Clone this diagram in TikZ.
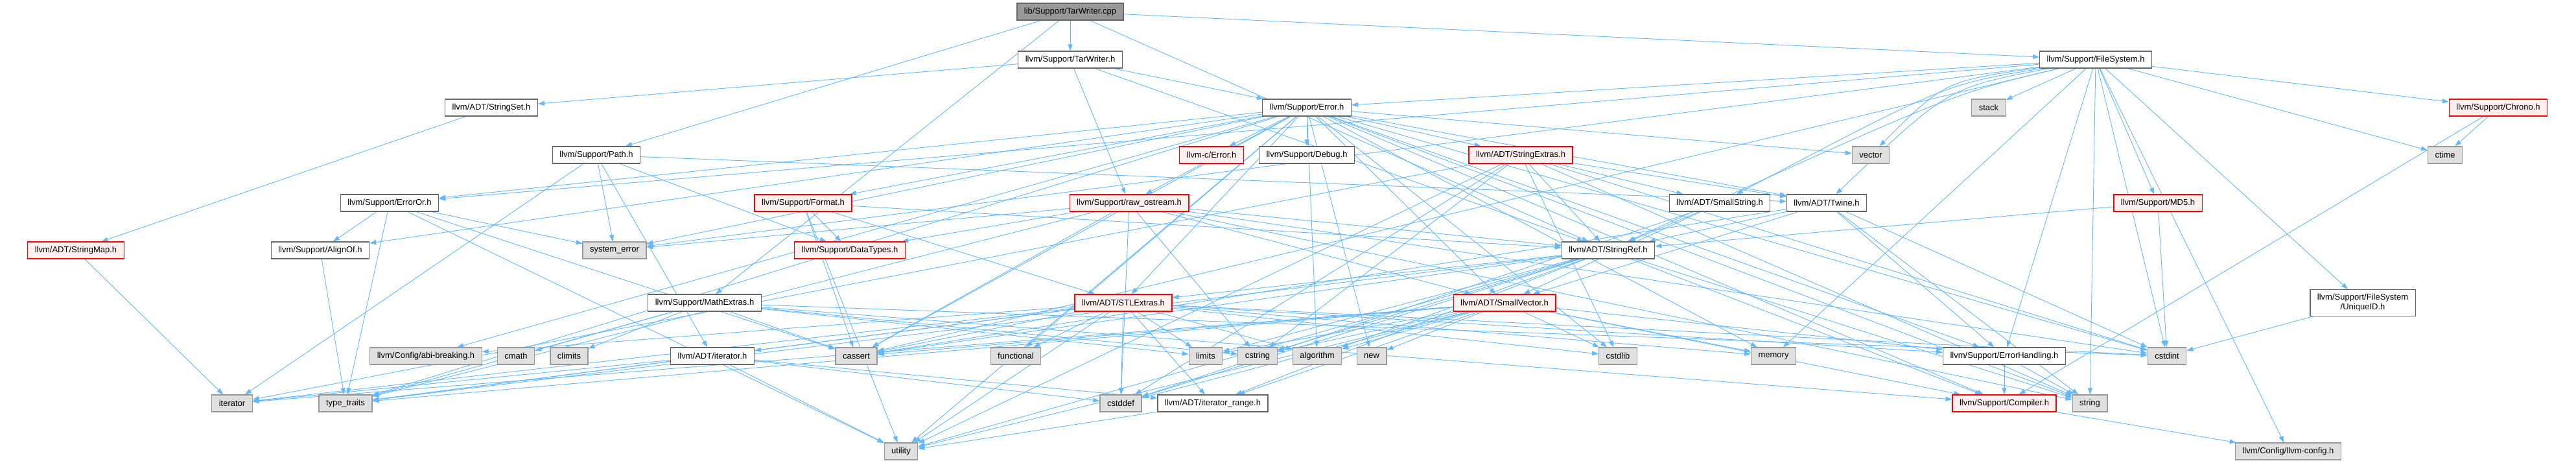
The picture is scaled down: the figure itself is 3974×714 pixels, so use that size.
\documentclass[tikz,border=0pt]{standalone}
\usepackage{fontspec}
\setmainfont{Liberation Sans}
\usetikzlibrary{arrows.meta}
\definecolor{edgeblue}{HTML}{63B8FF}
\definecolor{bordw}{HTML}{666666}
\definecolor{fillg}{HTML}{E0E0E0}
\definecolor{bordg}{HTML}{999999}
\definecolor{fillr}{HTML}{FFF0F0}
\definecolor{fillroot}{HTML}{999999}
\pgfdeclarelayer{edgelayer}
\pgfsetlayers{edgelayer,main}
\tikzset{
  nd/.style={rectangle, line width=1.2pt, minimum height=26pt, inner xsep=11pt, inner ysep=2pt,
     font=\fontsize{13}{15}\selectfont, align=center},
  wnode/.style={nd, draw=bordw, fill=white},
  gnode/.style={nd, draw=bordg, fill=fillg},
  rnode/.style={nd, draw=red, fill=fillr},
  rootnode/.style={nd, draw=bordw, fill=fillroot},
  dep/.style={draw=edgeblue, line width=0.9pt, -{Triangle[length=10pt,width=7pt]}}
}
\begin{document}
\begin{tikzpicture}[x=1pt,y=-1pt]
\useasboundingbox (0,0) rectangle (3974,714);
% rank 0-1
\node[rootnode] (root) at (1651,18) {lib/Support/TarWriter.cpp};
\node[wnode] (twh) at (1651,92) {llvm/Support/TarWriter.h};
\node[wnode] (fs) at (3233,92) {llvm/Support/FileSystem.h};
% rank 2
\node[wnode] (sset) at (758,166) {llvm/ADT/StringSet.h};
\node[wnode] (err) at (2016,166) {llvm/Support/Error.h};
\node[gnode] (stack) at (3068,166) {stack};
\node[rnode] (chrono) at (3854,166) {llvm/Support/Chrono.h};
% rank 3
\node[wnode] (path) at (920,239) {llvm/Support/Path.h};
\node[rnode] (cerr) at (1869,239) {llvm-c/Error.h};
\node[wnode] (debug) at (2016,239) {llvm/Support/Debug.h};
\node[rnode] (sext) at (2346,239) {llvm/ADT/StringExtras.h};
\node[gnode] (vector) at (2886,239) {vector};
\node[gnode] (ctime) at (3772,239) {ctime};
% rank 4
\node[wnode] (erroror) at (601,313) {llvm/Support/ErrorOr.h};
\node[rnode] (format) at (1239,313) {llvm/Support/Format.h};
\node[rnode] (raw) at (1742,313) {llvm/Support/raw\_ostream.h};
\node[wnode] (sstr) at (2653,313) {llvm/ADT/SmallString.h};
\node[wnode] (twine) at (2818,313) {llvm/ADT/Twine.h};
\node[rnode] (md5) at (3329,313) {llvm/Support/MD5.h};
% rank 5
\node[rnode] (smap) at (117,386) {llvm/ADT/StringMap.h};
\node[wnode] (align) at (494,386) {llvm/Support/AlignOf.h};
\node[gnode] (syserr) at (948,386) {system\_error};
\node[rnode] (dtypes) at (1311,386) {llvm/Support/DataTypes.h};
\node[wnode] (sref) at (2481,386) {llvm/ADT/StringRef.h};
% rank 6
\node[wnode] (math) at (1087,467) {llvm/Support/MathExtras.h};
\node[rnode] (stl) at (1733,467) {llvm/ADT/STLExtras.h};
\node[rnode] (svec) at (2321,467) {llvm/ADT/SmallVector.h};
\node[wnode, minimum height=41pt] (uid) at (3645,467) {llvm/Support/FileSystem\\/UniqueID.h};
% rank 7
\node[gnode] (abi) at (657,549) {llvm/Config/abi-breaking.h};
\node[gnode] (cmath) at (796,549) {cmath};
\node[gnode] (climits) at (878,549) {climits};
\node[wnode] (iterh) at (1099,549) {llvm/ADT/iterator.h};
\node[gnode] (cassert) at (1321,549) {cassert};
\node[gnode] (functional) at (1567,549) {functional};
\node[gnode] (limits) at (1860,549) {limits};
\node[gnode] (cstring) at (1940,549) {cstring};
\node[gnode] (algorithm) at (2032,549) {algorithm};
\node[gnode] (new) at (2116,549) {new};
\node[gnode] (cstdlib) at (2496,549) {cstdlib};
\node[gnode] (memory) at (2736,549) {memory};
\node[wnode] (errh) at (3092,549) {llvm/Support/ErrorHandling.h};
\node[gnode] (cstdint) at (3343,549) {cstdint};
% rank 8
\node[gnode] (iterator) at (358,622) {iterator};
\node[gnode] (typetraits) at (533,622) {type\_traits};
\node[gnode] (cstddef) at (1729,622) {cstddef};
\node[wnode] (iterrange) at (1871,622) {llvm/ADT/iterator\_range.h};
\node[rnode] (compiler) at (3092,622) {llvm/Support/Compiler.h};
\node[gnode] (string) at (3224,622) {string};
% rank 9
\node[gnode] (utility) at (1390,696) {utility};
\node[gnode] (llvmconfig) at (3530,696) {llvm/Config/llvm-config.h};

\begin{pgfonlayer}{edgelayer}
\foreach \s/\t in {
 root/twh, root/sref, root/fs, root/math, root/path,
 twh/sref, twh/sset, twh/err, twh/raw,
 fs/llvmconfig, fs/chrono, fs/err, fs/errh, fs/erroror,
 fs/uid, fs/md5, fs/cassert, fs/cstdint, fs/ctime, fs/memory, fs/stack, fs/string,
 fs/syserr,
 sset/smap, smap/iterator,
 err/cerr, err/stl, err/svec, err/sext, err/twine, err/abi, err/align, err/compiler,
 err/debug, err/errh, err/erroror, err/format, err/raw, err/algorithm, err/cassert,
 err/cstdint, err/cstdlib, err/functional, err/memory, err/new, err/string,
 err/syserr, err/typetraits, err/utility, err/vector,
 path/twine, path/iterh, path/dtypes, path/iterator, path/syserr,
 chrono/compiler, chrono/ctime,
 sext/sstr, sext/sref, sext/twine, sext/cstddef, sext/cstdint, sext/cstdlib,
 sext/cstring, sext/iterator, sext/string, sext/utility,
 erroror/align, erroror/cassert, erroror/syserr, erroror/typetraits, erroror/utility,
 format/stl, format/sref, format/dtypes, format/cassert, format/utility,
 raw/svec, raw/sref, raw/dtypes, raw/cassert, raw/cstddef, raw/cstdint, raw/cstring,
 raw/string, raw/syserr, raw/typetraits,
 sstr/svec, sstr/sref, sstr/cstddef,
 twine/svec, twine/sref, twine/errh, twine/cassert, twine/cstdint, twine/string,
 md5/sref, md5/cstdint,
 align/typetraits,
 sref/stl, sref/iterrange, sref/compiler, sref/algorithm, sref/cassert, sref/cstddef,
 sref/cstring, sref/limits, sref/string, sref/typetraits, sref/utility,
 math/compiler, math/cassert, math/climits, math/cmath, math/cstdint, math/cstring,
 math/limits, math/typetraits,
 stl/iterh, stl/iterrange, stl/abi, stl/errh, stl/algorithm, stl/cassert, stl/cstddef,
 stl/cstdint, stl/cstdlib, stl/functional, stl/iterator, stl/limits, stl/memory,
 stl/typetraits, stl/utility,
 svec/iterrange, svec/compiler, svec/errh, svec/algorithm, svec/cassert, svec/cstddef,
 svec/cstdlib, svec/cstring, svec/iterator, svec/limits, svec/memory, svec/new,
 svec/typetraits, svec/utility,
 uid/cstdint,
 iterh/iterrange, iterh/cstddef, iterh/iterator, iterh/typetraits, iterh/utility,
 errh/compiler, errh/string,
 iterrange/utility,
 compiler/llvmconfig}
 \draw[dep] (\s) -- (\t);
% FileSystem.h edges routed round the left of "stack"
\draw[dep] (fs) .. controls (3000,125) .. (vector);
\draw[dep] (fs) .. controls (3005,135) .. (twine);
\draw[dep] (fs) .. controls (3000,130) .. (sstr);
\draw[dep] (fs) .. controls (3010,145) .. (sref);
\end{pgfonlayer}
\end{tikzpicture}
\end{document}
